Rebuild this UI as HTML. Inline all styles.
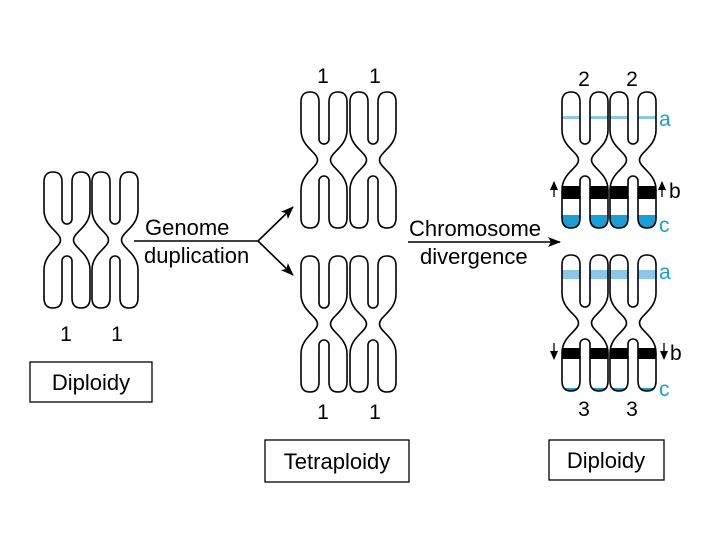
<!DOCTYPE html>
<html><head><style>body{margin:0;background:#fff}svg{display:block}text{font-family:"Liberation Sans",sans-serif}</style></head>
<body>
<svg width="720" height="540" viewBox="0 0 720 540">
<defs>
<path id="ch" d="M0,10 Q0,0 9,0 Q18,0 18,10 L18,47 A5,5 0 0 0 28,47 L28,10 Q28,0 37,0 Q46,0 46,10 L46,38 C46,55 29.5,60 29.5,68 C29.5,76 46,81 46,98 L46,126 Q46,136 37,136 Q28,136 28,126 L28,89 A5,5 0 0 0 18,89 L18,126 Q18,136 9,136 Q0,136 0,126 L0,98 C0,81 16.5,76 16.5,68 C16.5,60 0,55 0,38 Z"/>
<clipPath id="cp"><use href="#ch"/></clipPath>
<marker id="ar" markerWidth="13" markerHeight="10" refX="12" refY="5" orient="auto" markerUnits="userSpaceOnUse"><path d="M0,0 L13,5 L0,10 L3,5 Z" fill="#000"/></marker>
<marker id="ar2" markerWidth="9" markerHeight="8" refX="8" refY="4" orient="auto" markerUnits="userSpaceOnUse"><path d="M0,0 L9,4 L0,8 Z" fill="#000"/></marker>
</defs>
<g fill="#fff" stroke="#000" stroke-width="1.6">
<use href="#ch" x="44" y="172"/><use href="#ch" x="92" y="172"/>
<use href="#ch" x="301" y="92"/><use href="#ch" x="350" y="92"/>
<use href="#ch" x="301" y="256"/><use href="#ch" x="350" y="256"/>
</g>
<g transform="translate(562,92)"><g clip-path="url(#cp)"><use href="#ch" fill="#fff"/><rect x="0" y="24" width="46" height="3" fill="#8cc6e8"/><rect x="0" y="94" width="46" height="13" fill="#000"/><rect x="0" y="123" width="46" height="14" fill="#1a9fd4"/></g><use href="#ch" fill="none" stroke="#000" stroke-width="1.6"/></g>
<g transform="translate(610,92)"><g clip-path="url(#cp)"><use href="#ch" fill="#fff"/><rect x="0" y="24" width="46" height="3" fill="#8cc6e8"/><rect x="0" y="94" width="46" height="13" fill="#000"/><rect x="0" y="123" width="46" height="14" fill="#1a9fd4"/></g><use href="#ch" fill="none" stroke="#000" stroke-width="1.6"/></g>
<g transform="translate(562,255)"><g clip-path="url(#cp)"><use href="#ch" fill="#fff"/><rect x="0" y="15" width="46" height="9" fill="#8cc6e8"/><rect x="0" y="93" width="46" height="11" fill="#000"/><rect x="0" y="133" width="46" height="4" fill="#1a9fd4"/></g><use href="#ch" fill="none" stroke="#000" stroke-width="1.6"/></g>
<g transform="translate(610,255)"><g clip-path="url(#cp)"><use href="#ch" fill="#fff"/><rect x="0" y="15" width="46" height="9" fill="#8cc6e8"/><rect x="0" y="93" width="46" height="11" fill="#000"/><rect x="0" y="133" width="46" height="4" fill="#1a9fd4"/></g><use href="#ch" fill="none" stroke="#000" stroke-width="1.6"/></g>
<g stroke="#000" stroke-width="1.6" fill="none">
<line x1="134" y1="241" x2="258" y2="241"/>
<line x1="258" y1="241" x2="293" y2="207" marker-end="url(#ar)"/>
<line x1="258" y1="241" x2="293" y2="275" marker-end="url(#ar)"/>
<line x1="408" y1="242" x2="560" y2="242" marker-end="url(#ar)"/>
<line x1="554" y1="197" x2="554" y2="182" stroke-width="1.3" marker-end="url(#ar2)"/>
<line x1="662" y1="197" x2="662" y2="182" stroke-width="1.3" marker-end="url(#ar2)"/>
<line x1="554" y1="343" x2="554" y2="359" stroke-width="1.3" marker-end="url(#ar2)"/>
<line x1="664" y1="343" x2="664" y2="359" stroke-width="1.3" marker-end="url(#ar2)"/>
</g>
<g font-size="22" fill="#000">
<text x="145" y="235">Genome</text>
<text x="144" y="263">duplication</text>
<text x="409" y="236">Chromosome</text>
<text x="420" y="264">divergence</text>
</g>
<g font-size="21" fill="#000" text-anchor="middle">
<text x="66" y="341">1</text><text x="117" y="341">1</text>
<text x="323" y="83">1</text><text x="375" y="83">1</text>
<text x="323" y="419">1</text><text x="375" y="419">1</text>
<text x="584" y="86">2</text><text x="632" y="86">2</text>
<text x="584" y="416">3</text><text x="632" y="416">3</text>
</g>
<g font-size="21">
<text x="659" y="126" fill="#1a9fd4">a</text>
<text x="669" y="198" fill="#000">b</text>
<text x="659" y="232" fill="#1a9fd4">c</text>
<text x="659" y="279" fill="#1a9fd4">a</text>
<text x="670" y="360" fill="#000">b</text>
<text x="659" y="396" fill="#1a9fd4">c</text>
</g>
<g fill="none" stroke="#000" stroke-width="1.3">
<rect x="30" y="362" width="122" height="40"/>
<rect x="265" y="440" width="144" height="42"/>
<rect x="549" y="440" width="115" height="40"/>
</g>
<g font-size="22" text-anchor="middle">
<text x="91" y="390">Diploidy</text>
<text x="337" y="469">Tetraploidy</text>
<text x="606" y="468">Diploidy</text>
</g>
</svg>
</body></html>
